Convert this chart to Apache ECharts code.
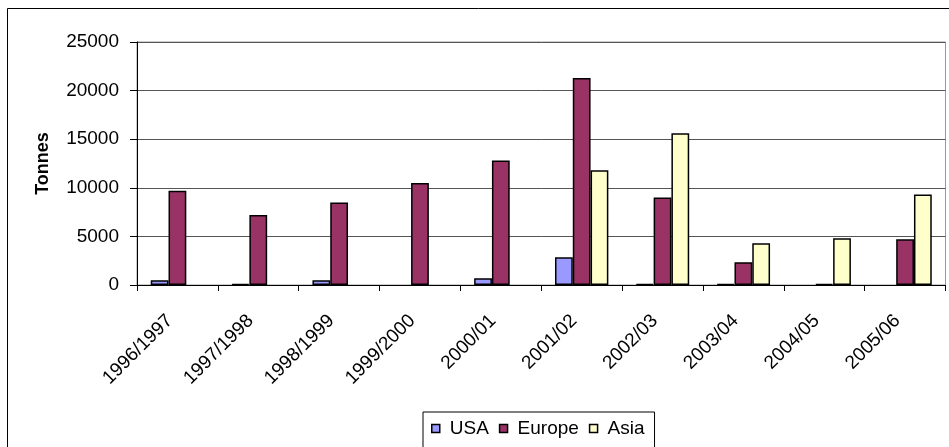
<!DOCTYPE html>
<html>
<head>
<meta charset="utf-8">
<script src="https://cdn.jsdelivr.net/npm/echarts@6/dist/echarts.min.js"></script>
<style>
html,body{margin:0;padding:0;background:#fff;}
#chart{width:949px;height:447px;}
</style>
</head>
<body>
<div id="chart"></div>
<script>
var categories = ['1996/1997','1997/1998','1998/1999','1999/2000','2000/01','2001/02','2002/03','2003/04','2004/05','2005/06'];
var usa    = [500, 100, 500, 0, 700, 2850, 100, 100, 0, 0];
var europe = [9700, 7200, 8500, 10500, 12800, 21300, 9000, 2350, 100, 4700];
var asia   = [0, 0, 0, 0, 0, 11800, 15600, 4300, 4800, 9300];
var yTicks = {min: 0, max: 25000, interval: 5000};

var FONT = 'Liberation Sans';
var chart = echarts.init(document.getElementById('chart'), null, {renderer: 'canvas'});

// zero-valued bars are not drawn in the original (no outline)
function toBarData(arr) {
  return arr.map(function (v) { return v === 0 ? '-' : v; });
}

function barSeries(name, data, color) {
  return {
    name: name,
    type: 'bar',
    data: toBarData(data),
    barGap: '0%',
    barCategoryGap: '34%',
    itemStyle: {color: color, borderColor: '#000', borderWidth: 1.5},
    emphasis: {disabled: true}
  };
}

chart.setOption({
  animation: false,
  backgroundColor: '#fff',
  textStyle: {fontFamily: FONT},
  graphic: [{
    type: 'rect',
    shape: {x: 7.5, y: 8.5, width: 1200, height: 1200},
    style: {fill: 'none', stroke: '#000', lineWidth: 1},
    silent: true, z: -1
  }],
  grid: {
    left: 137, right: 3.5, top: 42, bottom: 162,
    show: true, borderColor: '#999', borderWidth: 1, backgroundColor: 'transparent'
  },
  legend: {
    data: ['USA', 'Europe', 'Asia'],
    left: 423, top: 412,
    padding: [7, 10, 40, 8],
    itemGap: 10,
    itemWidth: 8, itemHeight: 8,
    icon: 'rect',
    borderColor: '#000', borderWidth: 1,
    itemStyle: {borderColor: '#000', borderWidth: 1.5},
    textStyle: {fontFamily: FONT, fontSize: 19, color: '#000', padding: [0, 0, 0, 5]}
  },
  xAxis: {
    type: 'category',
    data: categories,
    axisLine: {lineStyle: {color: '#000', width: 1}},
    axisTick: {show: true, length: 6, lineStyle: {color: '#000'}, alignWithLabel: false},
    axisLabel: {
      rotate: 45, interval: 0, margin: 25,
      fontFamily: FONT, fontSize: 19, color: '#000',
      padding: [0, 11, 0, 0]
    },
    splitLine: {show: false}
  },
  yAxis: {
    type: 'value',
    min: yTicks.min, max: yTicks.max, interval: yTicks.interval,
    name: 'Tonnes',
    nameLocation: 'middle',
    nameGap: 85,
    nameTextStyle: {fontFamily: FONT, fontSize: 18, fontWeight: 'bold', color: '#000'},
    axisLine: {show: true, lineStyle: {color: '#000', width: 1}},
    axisTick: {show: true, length: 7, lineStyle: {color: '#000'}},
    axisLabel: {
      margin: 18, fontFamily: FONT, fontSize: 19, color: '#000',
      formatter: function (v) { return String(v); }
    },
    splitLine: {show: true, lineStyle: {color: '#555', width: 1}}
  },
  series: [
    barSeries('USA', usa, '#9999FF'),
    barSeries('Europe', europe, '#993366'),
    barSeries('Asia', asia, '#FFFFCC')
  ]
});
</script>
</body>
</html>
